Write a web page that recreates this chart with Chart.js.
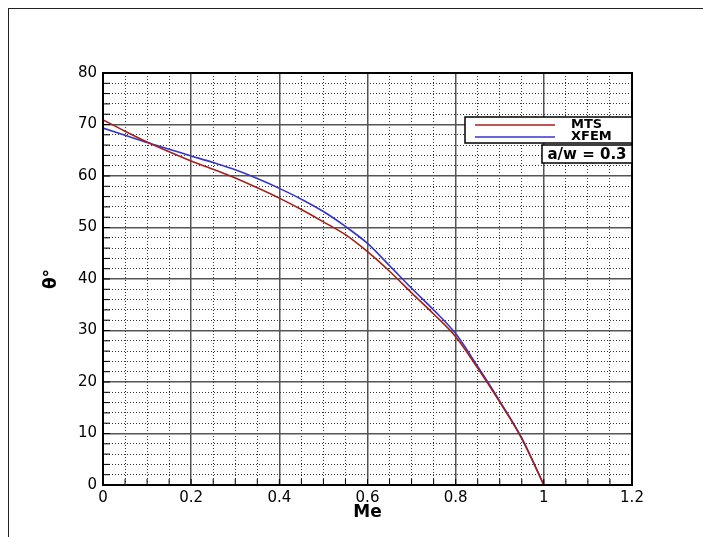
<!DOCTYPE html>
<html>
<head>
<meta charset="utf-8">
<script src="https://cdn.jsdelivr.net/npm/chart.js@4.4.1/dist/chart.umd.min.js"></script>
<style>
  body { margin: 0; background: #fff; }
  #wrap { position: relative; width: 703px; height: 537px; overflow: hidden; }
  #frame { position: absolute; left: 8px; top: 8px; width: 720px; height: 560px;
           border-left: 1.5px solid #222; border-top: 1.5px solid #222; }
  canvas { position: absolute; left: 0; top: 0; }
</style>
</head>
<body>
<div id="wrap">
  <div id="frame"></div>
  <canvas id="chart" width="703" height="537"></canvas>
</div>
<script>
// valores (theta en grados vs Me)
const me   = [0, 0.05, 0.1, 0.15, 0.2, 0.25, 0.3, 0.35, 0.4, 0.45, 0.5, 0.55, 0.6, 0.65, 0.7, 0.75, 0.8, 0.85, 0.9, 0.95, 1.0];
const mts  = [70.9, 68.7, 66.6, 64.7, 62.9, 61.3, 59.6, 57.7, 55.7, 53.5, 51.1, 48.6, 45.3, 41.5, 37.3, 33.2, 28.8, 22.7, 16.1, 9.0, 0];
const xfem = [69.3, 67.9, 66.5, 65.2, 63.9, 62.6, 61.2, 59.5, 57.6, 55.5, 53.1, 50.2, 46.9, 42.6, 38.2, 34.0, 29.4, 23.0, 16.3, 9.1, 0];

const xLabels = ['0', '0.2', '0.4', '0.6', '0.8', '1', '1.2'];
const yLabels = ['0', '10', '20', '30', '40', '50', '60', '70', '80'];
const boxText = 'a/w = 0.3';

Chart.defaults.font.family = 'DejaVu Sans';
Chart.defaults.color = '#000';

const isMajorX = v => Math.abs(v * 5 - Math.round(v * 5)) < 1e-6;
const isMajorY = v => Math.abs(v / 10 - Math.round(v / 10)) < 1e-6;

// marco, marcas menores hacia dentro, leyenda y caja a/w
const decor = {
  id: 'decor',
  afterDatasetsDraw(chart) {
    const { ctx, chartArea: a, scales } = chart;
    ctx.save();
    ctx.strokeStyle = '#000';
    ctx.lineWidth = 1;
    ctx.beginPath();
    scales.x.ticks.forEach(t => {
      const px = scales.x.getPixelForValue(t.value);
      ctx.moveTo(px, a.bottom);
      ctx.lineTo(px, a.bottom - 6);
    });
    scales.y.ticks.forEach(t => {
      const py = scales.y.getPixelForValue(t.value);
      ctx.moveTo(a.left, py);
      ctx.lineTo(a.left + 7, py);
    });
    ctx.stroke();
    ctx.lineWidth = 2;
    ctx.strokeRect(a.left, a.top, a.right - a.left, a.bottom - a.top);
    ctx.restore();
  },
  afterDraw(chart) {
    const { ctx, chartArea: a } = chart;
    ctx.save();
    // leyenda
    const lx = a.right - 167, ly = a.top + 44, lw = 167, lh = 26;
    ctx.fillStyle = '#fff';
    ctx.fillRect(lx, ly, lw, lh);
    ctx.strokeStyle = '#000';
    ctx.lineWidth = 1.5;
    ctx.strokeRect(lx, ly, lw, lh);
    ctx.font = 'bold 13px "DejaVu Sans"';
    ctx.textBaseline = 'middle';
    ctx.textAlign = 'left';
    chart.data.datasets.forEach((ds, i) => {
      const yy = ly + 8 + i * 12;
      ctx.strokeStyle = ds.borderColor;
      ctx.lineWidth = 1.5;
      ctx.beginPath();
      ctx.moveTo(lx + 10, yy);
      ctx.lineTo(lx + 90, yy);
      ctx.stroke();
      ctx.fillStyle = '#000';
      ctx.fillText(ds.label, lx + 106, yy);
    });
    // caja a/w
    const bx = a.right - 90, by = ly + lh + 2, bw = 90, bh = 18;
    ctx.fillStyle = '#fff';
    ctx.fillRect(bx, by, bw, bh);
    ctx.strokeStyle = '#000';
    ctx.lineWidth = 1.5;
    ctx.strokeRect(bx, by, bw, bh);
    ctx.fillStyle = '#000';
    ctx.font = 'bold 15px "DejaVu Sans"';
    ctx.textAlign = 'center';
    ctx.fillText(boxText, bx + bw / 2, by + bh / 2 + 1);
    ctx.restore();
  }
};

const ctx = document.getElementById('chart').getContext('2d');
new Chart(ctx, {
  type: 'line',
  data: {
    datasets: [
      {
        label: 'MTS',
        data: me.map((m, i) => ({ x: m, y: mts[i] })),
        borderColor: '#a3201c',
        borderWidth: 1.6,
        pointRadius: 0,
        cubicInterpolationMode: 'monotone'
      },
      {
        label: 'XFEM',
        data: me.map((m, i) => ({ x: m, y: xfem[i] })),
        borderColor: '#3636c8',
        borderWidth: 1.6,
        pointRadius: 0,
        cubicInterpolationMode: 'monotone'
      }
    ]
  },
  options: {
    responsive: false,
    animation: false,
    layout: { padding: { top: 73, right: 71, left: 0, bottom: 0 } },
    plugins: { legend: { display: false }, tooltip: { enabled: false } },
    scales: {
      x: {
        type: 'linear',
        min: 0,
        max: 1.2,
        afterFit: s => { s.height = 52; },
        ticks: {
          stepSize: 0.05,
          autoSkip: false,
          maxRotation: 0,
          padding: 4,
          font: { size: 15 },
          callback: v => isMajorX(v) ? xLabels[Math.round(v * 5)] : ''
        },
        grid: {
          drawTicks: false,
          color: c => isMajorX(c.tick.value) ? '#555' : '#333',
          lineWidth: c => isMajorX(c.tick.value) ? 1.5 : 1
        },
        border: {
          display: false,
          dash: c => (c.tick && !isMajorX(c.tick.value)) ? [1, 2] : []
        },
        title: {
          display: true,
          text: 'Me',
          font: { size: 17, weight: 'bold' },
          padding: { top: 0, bottom: 14 }
        }
      },
      y: {
        min: 0,
        max: 80,
        afterFit: s => { s.width = 103; },
        ticks: {
          stepSize: 2,
          autoSkip: false,
          padding: 6,
          font: { size: 15 },
          callback: v => isMajorY(v) ? yLabels[Math.round(v / 10)] : ''
        },
        grid: {
          drawTicks: false,
          color: c => isMajorY(c.tick.value) ? '#555' : '#333',
          lineWidth: c => isMajorY(c.tick.value) ? 1.5 : 1
        },
        border: {
          display: false,
          dash: c => (c.tick && !isMajorY(c.tick.value)) ? [1, 2] : []
        },
        title: {
          display: true,
          text: 'θ°',
          font: { size: 17, weight: 'bold' },
          padding: { top: 41, bottom: 0 }
        }
      }
    }
  },
  plugins: [decor]
});
</script>
</body>
</html>
